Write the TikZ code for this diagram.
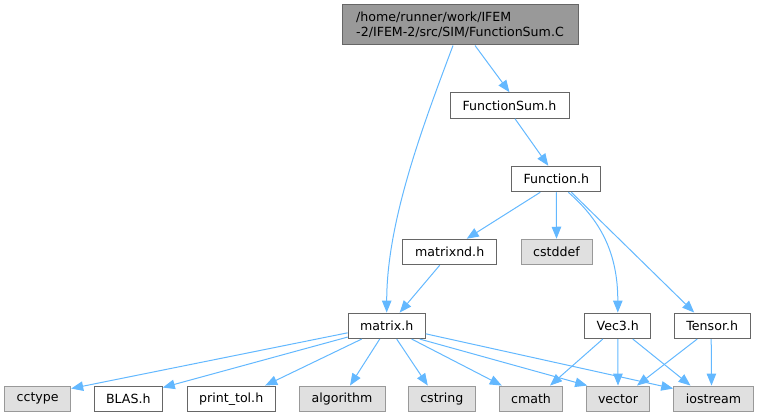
\documentclass[tikz,border=0pt]{standalone}
\usepackage{fontspec}
\setmainfont{DejaVu Sans}
\usetikzlibrary{arrows.meta}
\definecolor{edgec}{HTML}{63B8FF}
\definecolor{darkb}{HTML}{666666}
\definecolor{lightb}{HTML}{999999}
\definecolor{sysfill}{HTML}{E0E0E0}
\tikzset{
  base/.style={rectangle, inner sep=0pt, line width=1pt, minimum height=25.5pt, font=\fontsize{12.6}{15}\selectfont},
  filebox/.style={base, draw=darkb, fill=white},
  sysbox/.style={base, draw=lightb, fill=sysfill},
  topbox/.style={base, draw=darkb, fill=lightb, align=left, minimum height=40pt},
  edge/.style={draw=edgec, line width=1pt, -{Triangle[length=12pt,width=9.5pt]}}
}
\begin{document}
\begin{tikzpicture}[x=1pt,y=-1pt]
\useasboundingbox (0,0) rectangle (759,417);
% nodes
\node[topbox, minimum width=236pt] (top) at (460,25) {/home/runner/work/IFEM\\-2/IFEM-2/src/SIM/FunctionSum.C};
\node[filebox, minimum width=119pt] (fsh) at (509.5,105.5) {FunctionSum.h};
\node[filebox, minimum width=89pt] (fh) at (556.3,179) {Function.h};
\node[filebox, minimum width=94pt] (mnd) at (449.7,252) {matrixnd.h};
\node[sysbox, minimum width=71pt] (cstddef) at (556.5,252) {cstddef};
\node[filebox, minimum width=77pt] (matrix) at (386.7,325.8) {matrix.h};
\node[filebox, minimum width=66pt] (vec3) at (617.8,325.8) {Vec3.h};
\node[filebox, minimum width=76pt] (tensor) at (712.2,325.8) {Tensor.h};
\node[sysbox, minimum width=66pt] (cctype) at (37.7,398.8) {cctype};
\node[filebox, minimum width=68pt] (blas) at (128.3,398.8) {BLAS.h};
\node[filebox, minimum width=88pt] (printtol) at (231.2,398.8) {print\_tol.h};
\node[sysbox, minimum width=86pt] (algorithm) at (342,398.8) {algorithm};
\node[sysbox, minimum width=67pt] (cstring) at (441.8,398.8) {cstring};
\node[sysbox, minimum width=63.4pt] (cmath) at (531,398.8) {cmath};
\node[sysbox, minimum width=62.6pt] (vector) at (618,398.8) {vector};
\node[sysbox, minimum width=79.6pt] (iostream) at (713.5,398.8) {iostream};
% edges
\draw[edge] ([xshift=15pt]top.south) -- (fsh.north);
\draw[edge] ([xshift=-7pt]top.south) .. controls +(-28,75) and +(0,-93) .. (matrix.north);
\draw[edge] ([xshift=5.5pt]fsh.south) -- ([xshift=-8pt]fh.north);
\draw[edge] ([xshift=-16pt]fh.south) -- ([xshift=17pt]mnd.north);
\draw[edge] (fh.south) -- (cstddef.north);
\draw[edge] ([xshift=12pt]fh.south) .. controls +(32,28) and +(0,-60) .. (vec3.north);
\draw[edge] ([xshift=15pt]fh.south) -- ([xshift=-18pt]tensor.north);
\draw[edge] ([xshift=-10pt]mnd.south) -- ([xshift=13pt]matrix.north);
\draw[edge] ([yshift=-7pt]matrix.west) -- ([yshift=-3pt]cctype.north east);
\draw[edge] ([yshift=2pt]matrix.south west) -- ([yshift=-2pt]blas.north east);
\draw[edge] ([xshift=-25pt]matrix.south) -- ([xshift=34pt]printtol.north);
\draw[edge] ([xshift=-7pt]matrix.south) -- ([xshift=8pt]algorithm.north);
\draw[edge] ([xshift=10pt]matrix.south) -- ([xshift=-14pt]cstring.north);
\draw[edge] ([xshift=25pt]matrix.south) -- ([xshift=3pt]cmath.north west);
\draw[edge] ([xshift=33pt]matrix.south) -- ([xshift=1pt]vector.north west);
\draw[edge] ([yshift=-8pt]matrix.east) -- ([yshift=-3pt]iostream.north west);
\draw[edge] ([xshift=-15pt]vec3.south) -- ([xshift=19pt]cmath.north);
\draw[edge] (vec3.south) -- (vector.north);
\draw[edge] ([xshift=15pt]vec3.south) -- ([xshift=-23pt]iostream.north);
\draw[edge] ([xshift=-15pt]tensor.south) -- ([xshift=19pt]vector.north);
\draw[edge] ([xshift=-1pt]tensor.south) -- ([xshift=-2pt]iostream.north);
\end{tikzpicture}
\end{document}
